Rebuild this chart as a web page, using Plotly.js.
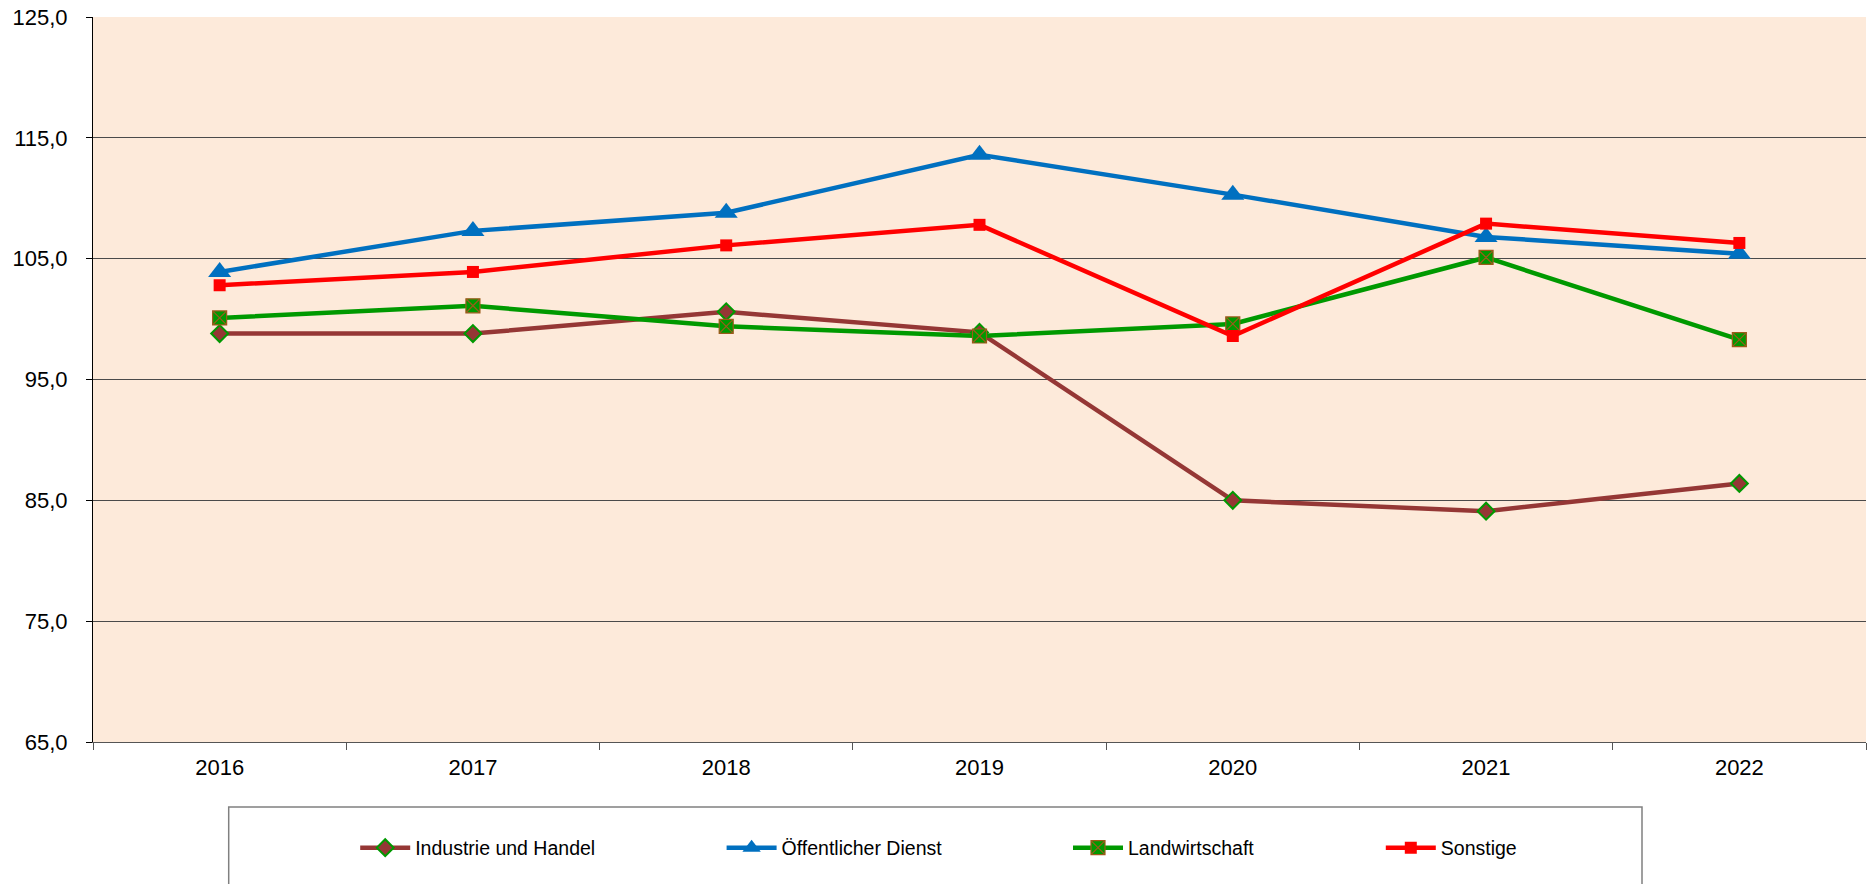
<!DOCTYPE html>
<html>
<head>
<meta charset="utf-8">
<script src="https://cdn.plot.ly/plotly-3.0.1.min.js"></script>
<style>html,body{margin:0;padding:0;background:#fff;}#chart{width:1868px;height:884px;}</style>
</head>
<body>
<div id="chart"></div>
<script>
const years = ['2016','2017','2018','2019','2020','2021','2022'];
const industrieUndHandel = [98.8, 98.8, 100.6, 98.9, 85.0, 84.1, 86.4];
const oeffentlicherDienst = [103.9, 107.3, 108.8, 113.6, 110.3, 106.8, 105.4];
const landwirtschaft = [100.1, 101.1, 99.4, 98.6, 99.6, 105.1, 98.3];
const sonstige = [102.8, 103.9, 106.1, 107.8, 98.6, 107.9, 106.3];
const seriesNames = ['Industrie und Handel', 'Öffentlicher Dienst', 'Landwirtschaft', 'Sonstige'];
const yTicks = [65, 75, 85, 95, 105, 115, 125];

const W = 1868, H = 884;
const L = 93, R = 1866, T = 17, B = 742;
const px = v => (v - L) / (R - L);
const py = v => (B - v) / (B - T);
const font = 'Liberation Sans, Arial, sans-serif';

const traces = [
  {
    x: years, y: industrieUndHandel, name: seriesNames[0], type: 'scatter', mode: 'lines+markers',
    line: {color: '#953735', width: 4.5},
    marker: {symbol: 'diamond', size: 13, color: '#953735', line: {color: '#009900', width: 2}},
    legend: 'legend'
  },
  {
    x: years, y: oeffentlicherDienst, name: seriesNames[1], type: 'scatter', mode: 'lines+markers',
    line: {color: '#0070C0', width: 4.5},
    marker: {symbol: 'triangle-up', size: 20, color: '#0070C0', line: {width: 0}},
    legend: 'legend2'
  },
  {
    x: years, y: landwirtschaft, name: seriesNames[2], type: 'scatter', mode: 'lines+markers',
    line: {color: '#009900', width: 4.5},
    marker: {symbol: 'square-x', size: 14, color: '#009900', line: {color: '#9a5b1a', width: 1.2}},
    legend: 'legend3'
  },
  {
    x: years, y: sonstige, name: seriesNames[3], type: 'scatter', mode: 'lines+markers',
    line: {color: '#FF0000', width: 4.5},
    marker: {symbol: 'square', size: 12, color: '#FF0000', line: {width: 0}},
    legend: 'legend4'
  }
];

const legendY = py(848);
function leg(textStartPx) {
  return {
    orientation: 'h', x: px(textStartPx - 60), xanchor: 'left', y: legendY, yanchor: 'middle',
    bgcolor: 'rgba(0,0,0,0)', borderwidth: 0, itemwidth: 50,
    font: {family: font, size: 19.5, color: '#000'}
  };
}

const layout = {
  width: W, height: H,
  margin: {l: L, r: W - R, t: T, b: H - B, pad: 0},
  paper_bgcolor: '#ffffff',
  plot_bgcolor: '#FDEADA',
  separators: ',.',
  showlegend: true,
  xaxis: {
    type: 'category', categoryorder: 'array', categoryarray: years,
    range: [-0.5, 6.5], tickson: 'boundaries',
    ticks: 'outside', ticklen: 7, tickwidth: 1, tickcolor: '#555555',
    showline: true, linecolor: '#555555', linewidth: 1,
    showgrid: false, zeroline: false,
    tickfont: {family: font, size: 22, color: '#000'},
    ticklabelstandoff: 6,
    fixedrange: true
  },
  yaxis: {
    range: [65, 125], tickmode: 'array', tickvals: yTicks, tickformat: '.1f',
    ticks: 'outside', ticklen: 6, tickwidth: 1, tickcolor: '#000',
    showline: true, linecolor: '#000', linewidth: 1,
    showgrid: true, gridcolor: '#4a4a4a', gridwidth: 1, zeroline: false,
    tickfont: {family: font, size: 22, color: '#000'},
    ticklabelstandoff: 14,
    fixedrange: true
  },
  legend: leg(415.2),
  legend2: leg(781.6),
  legend3: leg(1128),
  legend4: leg(1440.8),
  shapes: [
    {type: 'rect', xref: 'paper', yref: 'paper', x0: px(228.7), x1: px(1642), y0: py(890), y1: py(807),
     line: {color: '#808080', width: 1.5}, fillcolor: 'rgba(0,0,0,0)', layer: 'below'}
  ]
};

Plotly.newPlot('chart', traces, layout, {displayModeBar: false, staticPlot: true});
</script>
</body>
</html>
